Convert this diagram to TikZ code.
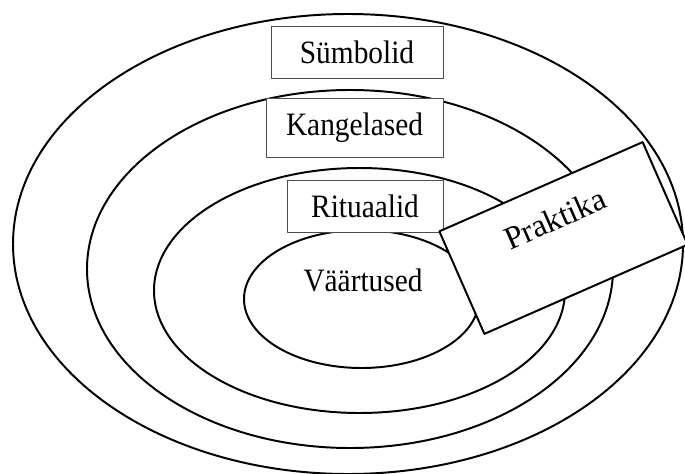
\documentclass[tikz,border=0pt]{standalone}
\usepackage{fontspec}
\setmainfont{Liberation Serif}
\usetikzlibrary{calc}

\newcommand{\narrowtext}[1]{\scalebox{0.9}[1]{#1}}

\begin{document}
\begin{tikzpicture}[line cap=round,line join=round,x=1.0cm,y=1.0cm,
            ring/.style={line width=1.4pt},
            layerbox/.style={draw=black!70,line width=0.6pt,fill=white,inner sep=0pt,font=\fontsize{23.2}{27}\selectfont},
            praktikabox/.style={draw,line width=1.4pt,fill=white,rotate=23.7,minimum width=5.55cm,minimum height=2.8cm}]
            \useasboundingbox (0.,0.) rectangle (17.125,11.825);

            \draw [ring] (8.7,5.725) ellipse (8.375cm and 5.75cm);
            \draw [ring] (8.75,5.1) ellipse (6.575cm and 4.475cm);
            \draw [ring] (8.9875,4.5625) ellipse (5.1375cm and 3.0625cm);
            \draw [ring] (9.0375,4.35) ellipse (2.9375cm and 1.725cm);

            \node [layerbox,minimum width=4.3cm,minimum height=1.3cm] (symbolid) at (8.925,10.525) {\narrowtext{Sümbolid}};
            \node [layerbox,minimum width=4.425cm,minimum height=1.475cm] (kangelased) at (8.8625,8.6375) {\narrowtext{Kangelased}};
            \node [layerbox,minimum width=3.9cm,minimum height=1.3cm] (rituaalid) at (9.125,6.675) {\narrowtext{Rituaalid}};
            \node [font=\fontsize{23.2}{27}\selectfont] (vaartused) at (9.075,4.825) {\narrowtext{Väärtused}};

            \node [praktikabox] (praktika) at (14.0875,5.875) {};
            \node [rotate=23.7,font=\fontsize{23}{27}\selectfont] (praktikatext) at ($(praktika.center)!0.37!(praktika.north)$) {Praktika};
\end{tikzpicture}
\end{document}
